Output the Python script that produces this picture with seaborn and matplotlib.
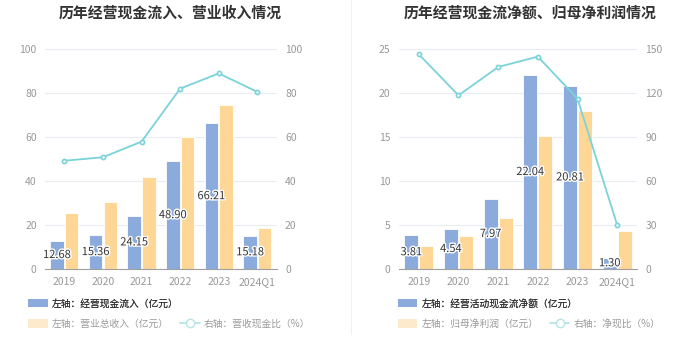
import numpy as np
import pandas as pd
import matplotlib
matplotlib.use("Agg")
import matplotlib.pyplot as plt
import matplotlib.patheffects as pe
from matplotlib.patches import Patch
from matplotlib.lines import Line2D
import seaborn as sns

sns.set_style("white")
plt.rcParams['font.family'] = ['Noto Sans CJK SC', 'DejaVu Sans']

"""Data"""
years = ['2019', '2020', '2021', '2022', '2023', '2024Q1']

cash_in = [12.68, 15.36, 24.15, 48.90, 66.21, 15.18]
revenue = [25.6, 30.3, 41.7, 59.8, 74.7, 18.8]
cash_ratio = [49.2, 50.8, 57.9, 82.0, 88.9, 80.5]

net_cash = [3.81, 4.54, 7.97, 22.04, 20.81, 1.30]
net_profit = [2.6, 3.8, 5.8, 15.1, 17.9, 4.3]
net_ratio = [146.4, 118.4, 137.7, 144.8, 116.1, 30.0]

BLUE = '#8aabdb'
YELLOW = '#fed797'
CYAN = '#7ad3d9'
GRID = '#e8ecf4'
TXT = '#999999'


def panel(ax, bar1, bar2, line, names, ylim_l, ylim_r, yt_l, yt_r):
    df = pd.DataFrame({'year': years * 2,
                       'value': bar1 + bar2,
                       'kind': [names[0]] * len(years) + [names[1]] * len(years)})
    sns.barplot(data=df, x='year', y='value', hue='kind', order=years,
                hue_order=names, palette=[BLUE, YELLOW], width=0.76, gap=0.08,
                saturation=1, edgecolor='white', linewidth=0.6, legend=False,
                ax=ax, zorder=2)
    ax.set_ylim(*ylim_l)
    ax.set_yticks(yt_l)
    ax.set_xlabel('')
    ax.set_ylabel('')
    ax.grid(axis='y', color=GRID, linewidth=0.8, zorder=0)
    ax.set_axisbelow(True)
    for s in ['top', 'right', 'left']:
        ax.spines[s].set_visible(False)
    ax.spines['bottom'].set_color('#a0a0a0')
    ax.tick_params(axis='x', colors='#a0a0a0', labelcolor=TXT, labelsize=7.5,
                   length=3, width=0.8, pad=3)
    ax.tick_params(axis='y', length=0, labelcolor=TXT, labelsize=7.5, pad=6)

    # value labels on first bar series
    for rect, v in zip(ax.patches[:len(years)], bar1):
        ax.text(rect.get_x() + rect.get_width() / 2, rect.get_height() / 2,
                f'{v:.2f}', ha='center', va='center', fontsize=8, color='#333333',
                zorder=5, path_effects=[pe.withStroke(linewidth=2, foreground='white')])

    ax2 = ax.twinx()
    sns.pointplot(x=years, y=line, order=years, color=CYAN, markers='o',
                  markersize=3, linewidth=1.3, markerfacecolor='white',
                  markeredgewidth=1.2, ax=ax2)
    ax2.set_ylim(*ylim_r)
    ax2.set_yticks(yt_r)
    for s in ['top', 'right', 'left', 'bottom']:
        ax2.spines[s].set_visible(False)
    ax2.tick_params(axis='y', length=0, labelcolor=TXT, labelsize=7.5, pad=6)
    ax2.set_xlim(-0.5, len(years) - 0.5)


fig = plt.figure(figsize=(7, 3.59), dpi=100)
ax_l = fig.add_axes([0.0643, 0.2507, 0.331, 0.6128])
ax_r = fig.add_axes([0.570, 0.2507, 0.340, 0.6128])

panel(ax_l, cash_in, revenue, cash_ratio,
      ['左轴：经营现金流入（亿元）', '左轴：营业总收入（亿元）'],
      (0, 100), (0, 100), [0, 20, 40, 60, 80, 100], [0, 20, 40, 60, 80, 100])
panel(ax_r, net_cash, net_profit, net_ratio,
      ['左轴：经营活动现金流净额（亿元）', '左轴：归母净利润（亿元）'],
      (0, 25), (0, 150), [0, 5, 10, 15, 20, 25], [0, 30, 60, 90, 120, 150])

fig.text(0.243, 0.966, '历年经营现金流入、营业收入情况', ha='center', va='center',
         fontsize=10.7, fontweight='bold', color='#333333')
fig.text(0.757, 0.966, '历年经营现金流净额、归母净利润情况', ha='center', va='center',
         fontsize=10.7, fontweight='bold', color='#333333')

# separator
fig.add_artist(Line2D([0.501, 0.501], [0.07, 1.0], color='#f0f0f0', linewidth=0.8))


def legends(x0, row1, row2, row3):
    h1 = [Patch(facecolor=BLUE, edgecolor='none')]
    l1 = fig.legend(h1, [row1], loc='center left', bbox_to_anchor=(x0, 0.155),
                    frameon=False, fontsize=7, handlelength=2.0, handleheight=1.0,
                    handletextpad=0.4, labelcolor='#333333')
    h2 = [Patch(facecolor='#fde9cc', edgecolor='none'),
          Line2D([0], [0], color='#b5e5e8', marker='o', markersize=6,
                 markerfacecolor='white', markeredgecolor='#b5e5e8', linewidth=1.3)]
    fig.legend(h2, [row2, row3], loc='center left', bbox_to_anchor=(x0, 0.098),
               frameon=False, fontsize=7, ncol=2, handlelength=2.0, handleheight=1.0,
               handletextpad=0.4, columnspacing=1.2, labelcolor='#999999')
    fig.add_artist(l1)


legends(0.028, '左轴：经营现金流入（亿元）', '左轴：营业总收入（亿元）', '右轴：营收现金比（%）')
legends(0.556, '左轴：经营活动现金流净额（亿元）', '左轴：归母净利润（亿元）', '右轴：净现比（%）')

fig.savefig('out.png', dpi=100, facecolor='white')
